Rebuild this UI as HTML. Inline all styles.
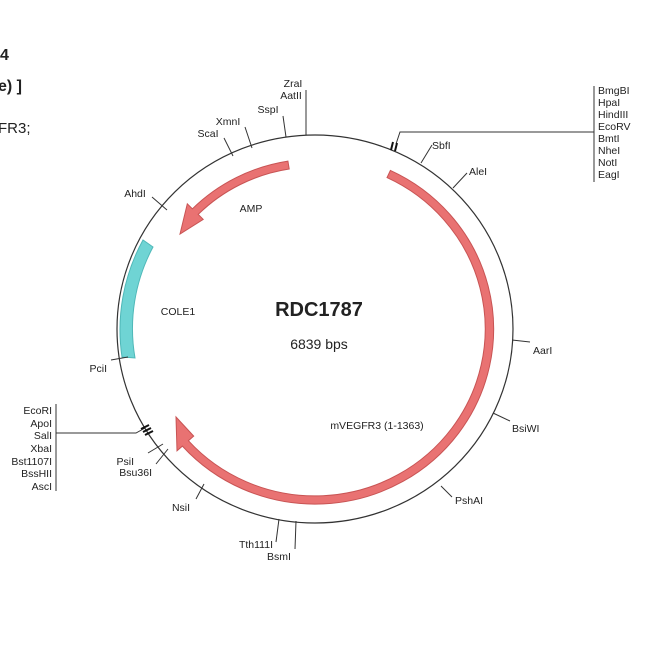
<!DOCTYPE html>
<html><head><meta charset="utf-8"><style>
html,body{margin:0;padding:0;background:#fff;width:650px;height:650px;overflow:hidden}
svg{display:block}
text{font-family:"Liberation Sans",sans-serif;fill:#222}
.l{font-size:10.5px}
</style></head><body>
<svg width="650" height="650" viewBox="0 0 650 650">
<text x="0" y="60" style="font-size:16px;font-weight:bold">4</text>
<text x="-2" y="91" style="font-size:16px;font-weight:bold">e) ]</text>
<text x="-2" y="133" style="font-size:15px">FR3;</text>

<ellipse cx="315" cy="329" rx="198" ry="194" fill="none" stroke="#333" stroke-width="1.2"/>

<path d="M143 240 A194 190 0 0 0 122 357 L135 358 A180 176 0 0 1 153 247 Z" fill="#6fd4d4" stroke="#4fb8b8" stroke-width="1"/>
<path d="M390.4 170.4 A178.5 175 0 1 1 182.4 446.1 L177 450.8 L176 417 L193.7 436.1 L188.4 440.7 A170.3 167 0 1 0 387 177.6 Z" fill="#e97272" stroke="#c85454" stroke-width="1"/>
<path d="M287.9 161.1 A173.4 170 0 0 0 192.4 208.8 L187.3 203.8 L180 234 L203.2 219.4 L198.2 214.4 A165.2 162 0 0 1 289.2 169 Z" fill="#e97272" stroke="#c85454" stroke-width="1"/>

<g stroke="#333" stroke-width="1" fill="none">
<line x1="306" y1="135" x2="306" y2="90"/>
<line x1="286" y1="137" x2="283" y2="116"/>
<line x1="252" y1="148" x2="245" y2="127"/>
<line x1="233" y1="156" x2="224" y2="138"/>
<line x1="167" y1="210" x2="152" y2="197"/>
<line x1="128" y1="357" x2="111" y2="360"/>
<line x1="163" y1="444" x2="148" y2="453"/>
<line x1="168" y1="449" x2="156" y2="464"/>
<line x1="204" y1="484" x2="196" y2="499"/>
<line x1="279" y1="519" x2="276" y2="542"/>
<line x1="296" y1="521" x2="295" y2="549"/>
<line x1="441" y1="486" x2="452" y2="497"/>
<line x1="493" y1="413" x2="510" y2="421"/>
<line x1="512" y1="340" x2="530" y2="342"/>
<line x1="453" y1="188" x2="467" y2="173"/>
<line x1="421" y1="163" x2="432" y2="145"/>
<polyline points="396,144 400,132 594,132"/>
<line x1="594" y1="86" x2="594" y2="182"/>
<polyline points="145,428 136,433 56,433"/>
<line x1="56" y1="404" x2="56" y2="491"/>
</g>
<g stroke="#111" stroke-width="2">
<line x1="391" y1="150" x2="393" y2="142"/><line x1="395" y1="151" x2="397" y2="143"/>
<line x1="143" y1="432" x2="151" y2="428"/><line x1="145" y1="435" x2="153" y2="431"/><line x1="141" y1="429" x2="149" y2="425"/>
</g>

<g class="l">
<text x="293" y="87" text-anchor="middle">ZraI</text>
<text x="291" y="99" text-anchor="middle">AatII</text>
<text x="268" y="113" text-anchor="middle">SspI</text>
<text x="228" y="125" text-anchor="middle">XmnI</text>
<text x="208" y="137" text-anchor="middle">ScaI</text>
<text x="135" y="197" text-anchor="middle">AhdI</text>
<text x="107" y="372" text-anchor="end">PciI</text>
<text x="134" y="465" text-anchor="end">PsiI</text>
<text x="152" y="476" text-anchor="end">Bsu36I</text>
<text x="181" y="511" text-anchor="middle">NsiI</text>
<text x="273" y="548" text-anchor="end">Tth111I</text>
<text x="279" y="560" text-anchor="middle">BsmI</text>
<text x="455" y="504">PshAI</text>
<text x="512" y="432">BsiWI</text>
<text x="533" y="354">AarI</text>
<text x="469" y="175">AleI</text>
<text x="432" y="149">SbfI</text>
<g>
<text x="598" y="94">BmgBI</text><text x="598" y="106">HpaI</text><text x="598" y="118">HindIII</text>
<text x="598" y="130">EcoRV</text><text x="598" y="142">BmtI</text><text x="598" y="154">NheI</text>
<text x="598" y="166">NotI</text><text x="598" y="178">EagI</text>
</g>
<g text-anchor="end">
<text x="52" y="414">EcoRI</text><text x="52" y="427">ApoI</text><text x="52" y="439">SalI</text>
<text x="52" y="452">XbaI</text><text x="52" y="465">Bst1107I</text><text x="52" y="477">BssHII</text>
<text x="52" y="490">AscI</text>
</g>
<text x="178" y="315" text-anchor="middle">COLE1</text>
<text x="251" y="212" text-anchor="middle">AMP</text>
<text x="377" y="429" text-anchor="middle">mVEGFR3 (1-1363)</text>
</g>
<text x="319" y="316" text-anchor="middle" style="font-size:20px;font-weight:bold">RDC1787</text>
<text x="319" y="349" text-anchor="middle" style="font-size:14px">6839 bps</text>
</svg>
</body></html>
